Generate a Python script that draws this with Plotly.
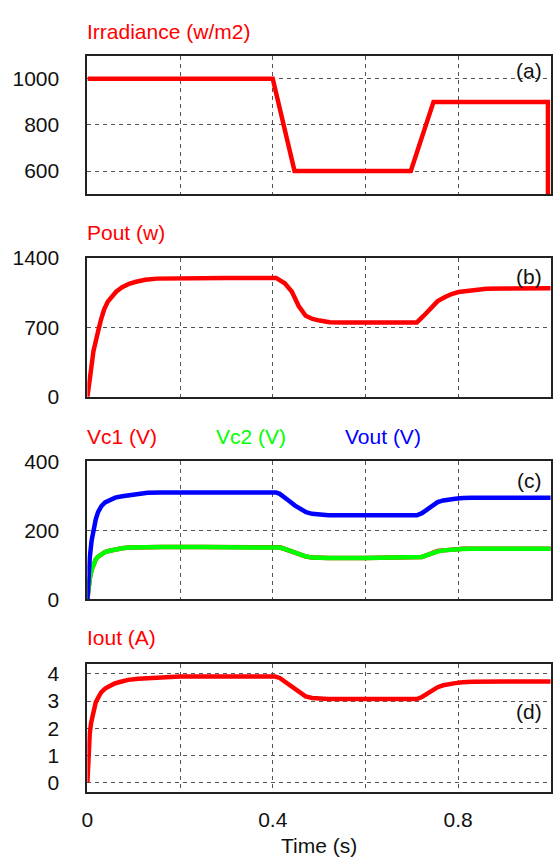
import plotly.graph_objects as go

# ---------------- data ----------------
t_irr = [0, 0.4, 0.447, 0.698, 0.747, 0.994, 0.994]
irr = [1000, 1000, 600, 600, 900, 900, 0]

t_pout = [0, 0.004, 0.008, 0.013, 0.018, 0.024, 0.030, 0.036, 0.044, 0.052, 0.062,
          0.075, 0.090, 0.105, 0.125, 0.15, 0.2, 0.3, 0.407, 0.415, 0.426, 0.441,
          0.456, 0.471, 0.486, 0.501, 0.523, 0.55, 0.6, 0.65, 0.711, 0.726, 0.741,
          0.756, 0.771, 0.786, 0.801, 0.831, 0.861, 0.9, 1.0]
pout = [0, 110, 280, 460, 580, 680, 790, 880, 960, 1010, 1060,
        1105, 1140, 1160, 1180, 1192, 1198, 1199, 1199, 1180, 1145, 1063,
        916, 818, 785, 769, 752, 750, 750, 750, 750, 818, 893,
        965, 1004, 1037, 1057, 1070, 1089, 1093, 1095]

t_v = [0, 0.002, 0.005, 0.009, 0.013, 0.018, 0.023, 0.030, 0.038, 0.048, 0.060,
       0.075, 0.090, 0.110, 0.130, 0.160, 0.25, 0.407, 0.415, 0.426, 0.437, 0.448,
       0.46, 0.472, 0.485, 0.5, 0.52, 0.6, 0.711, 0.722, 0.733, 0.745, 0.756,
       0.768, 0.78, 0.794, 0.81, 0.83, 0.9, 1.0]
vout = [0, 60, 120, 170, 206, 232, 253, 270, 281, 289, 295,
        299, 302, 306, 309, 310, 310, 310, 306, 296, 284, 272,
        261, 253, 248, 245, 244, 244, 244, 250, 260, 271, 282,
        287, 290, 292, 294, 295, 295, 295]
vc1 = [0, 30, 60, 85, 104, 116, 124, 131, 137, 141, 145,
       148, 150, 151, 152, 152, 152, 152, 151, 146, 140, 134,
       128, 124, 121, 120, 120, 120, 120, 123, 128, 134, 140,
       142, 144, 145, 147, 147, 147, 147]
vc2 = [0, 30, 60, 85, 104, 116, 124, 131, 137, 141, 145,
       148, 150, 151, 152, 152, 152, 152, 150, 146, 140, 134,
       128, 124, 121, 120, 120, 120, 120, 123, 128, 134, 139,
       142, 144, 145, 146, 147, 147, 147]

t_i = [0, 0.001, 0.002, 0.005, 0.008, 0.013, 0.018, 0.024, 0.030, 0.039, 0.048,
       0.058, 0.07, 0.088, 0.11, 0.14, 0.2, 0.3, 0.405, 0.415, 0.426, 0.437,
       0.448, 0.46, 0.471, 0.485, 0.5, 0.52, 0.6, 0.711, 0.722, 0.733, 0.745,
       0.756, 0.768, 0.78, 0.794, 0.81, 0.831, 0.9, 1.0]
iout = [0, 0.5, 1.0, 1.8, 2.2, 2.6, 2.95, 3.15, 3.33, 3.47, 3.57,
        3.64, 3.7, 3.78, 3.82, 3.86, 3.9, 3.9, 3.9, 3.85, 3.72, 3.57,
        3.42, 3.27, 3.17, 3.11, 3.08, 3.07, 3.07, 3.07, 3.15, 3.27, 3.4,
        3.51, 3.58, 3.63, 3.66, 3.69, 3.71, 3.72, 3.72]

x_tickvals = [0, 0.2, 0.4, 0.6, 0.8]
x_ticktext = ["0", "", "0.4", "", "0.8"]
titles = ["Irradiance (w/m2)", "Pout (w)", "Iout (A)"]
legend_names = ["Vc1 (V)", "Vc2 (V)", "Vout (V)"]
panel_tags = ["(a)", "(b)", "(c)", "(d)"]

# ---------------- figure ----------------
W, H = 554, 868
FONT = "Liberation Sans, Arial, sans-serif"
FS = 21
RED, GREEN, BLUE = "#ff0000", "#00ff00", "#0000ff"
LW = 4.5

def py(px):
    return 1 - px / H

xdom = [82.3 / W, 550.7 / W]
ydoms = [(45, 187), (252.7, 395.3), (461.7, 603.3), (669.3, 801.7)]

fig = go.Figure()
fig.add_trace(go.Scatter(x=t_irr, y=irr, mode="lines", line=dict(color=RED, width=LW),
                         xaxis="x", yaxis="y"))
fig.add_trace(go.Scatter(x=t_pout, y=pout, mode="lines", line=dict(color=RED, width=LW),
                         xaxis="x2", yaxis="y2"))
fig.add_trace(go.Scatter(x=t_v, y=vc1, mode="lines", line=dict(color=RED, width=LW),
                         xaxis="x3", yaxis="y3"))
fig.add_trace(go.Scatter(x=t_v, y=vc2, mode="lines", line=dict(color=GREEN, width=LW),
                         xaxis="x3", yaxis="y3"))
fig.add_trace(go.Scatter(x=t_v, y=vout, mode="lines", line=dict(color=BLUE, width=LW),
                         xaxis="x3", yaxis="y3"))
fig.add_trace(go.Scatter(x=t_i, y=iout, mode="lines", line=dict(color=RED, width=LW),
                         xaxis="x4", yaxis="y4"))

yranges = [[500, 1100], [0, 1400], [0, 400], [-0.37, 4.38]]
ytickvals = [[600, 800, 1000], [0, 700, 1400], [0, 200, 400], [0, 1, 2, 3, 4]]

layout = dict(
    width=W, height=H,
    margin=dict(l=0, r=0, t=0, b=0),
    paper_bgcolor="white", plot_bgcolor="white",
    showlegend=False,
    font=dict(family=FONT, size=FS, color="#111"),
)
for k in range(4):
    sx = "" if k == 0 else str(k + 1)
    top, bot = ydoms[k]
    layout["xaxis" + sx] = dict(
        domain=xdom, range=[0, 1.0], anchor="y" + sx,
        tickvals=x_tickvals, ticktext=x_ticktext,
        showticklabels=(k == 3), ticks="", ticklabelstandoff=7,
        showgrid=True, gridcolor="#555", gridwidth=1, griddash="4px,4px",
        zeroline=False, showline=True, mirror=True, linecolor="#222", linewidth=2,
        tickfont=dict(family=FONT, size=FS, color="#111"), fixedrange=True,
    )
    layout["yaxis" + sx] = dict(
        domain=[py(bot), py(top)], range=yranges[k], anchor="x" + sx,
        tickvals=ytickvals[k], ticks="", ticklabelstandoff=22,
        showgrid=True, gridcolor="#555", gridwidth=1, griddash="4px,4px",
        zeroline=False, showline=True, mirror=True, linecolor="#222", linewidth=2,
        tickfont=dict(family=FONT, size=FS, color="#111"), fixedrange=True,
    )
fig.update_layout(**layout)

ann = []
def add_text(text, xpx, ypx, color, xanchor="left"):
    ann.append(dict(text=text, x=xpx / W, y=py(ypx), xref="paper", yref="paper",
                    xanchor=xanchor, yanchor="middle", showarrow=False,
                    font=dict(family=FONT, size=FS, color=color)))

add_text(titles[0], 80, 20, RED)
add_text(titles[1], 80, 227, RED)
add_text(legend_names[0], 80, 436, RED)
add_text(legend_names[1], 210, 436, GREEN)
add_text(legend_names[2], 341, 436, BLUE)
add_text(titles[2], 80, 643, RED)
for tag, ypx in zip(panel_tags, [60, 272, 481, 719]):
    add_text(tag, 529, ypx, "#111", xanchor="center")
add_text("Time (s)", 316.5, 856, "#111", xanchor="center")
fig.update_layout(annotations=ann)

fig.write_html("out.html")
